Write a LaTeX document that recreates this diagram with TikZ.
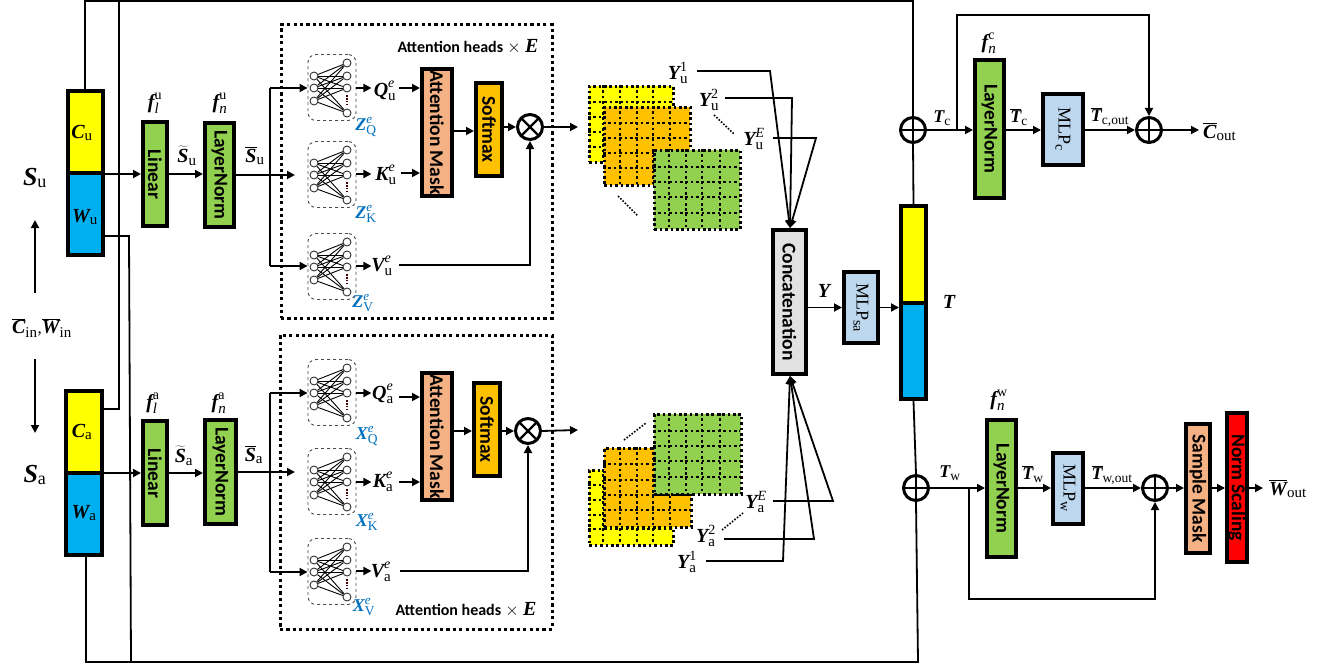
\documentclass[tikz,border=0pt]{standalone}
\usepackage{fontspec}
\usetikzlibrary{arrows.meta}
\setmainfont{Liberation Serif}
\newfontfamily\boxf{Carlito}
\newfontfamily\serf{Liberation Serif}
\definecolor{cyel}{HTML}{FFFF00}
\definecolor{cblu}{HTML}{00B0F0}
\definecolor{cgrn}{HTML}{92D050}
\definecolor{csal}{HTML}{F4B183}
\definecolor{corg}{HTML}{FFC000}
\definecolor{clbl}{HTML}{BDD7EE}
\definecolor{cgry}{HTML}{E2E2E2}
\definecolor{cred}{HTML}{FF0000}
\definecolor{zblue}{HTML}{0070C0}
\newcommand\symf{\fontsize{20}{22}\selectfont\serf\bfseries\itshape}
\newcommand\subf{\fontsize{15}{16}\selectfont\serf\upshape\mdseries}
\newcommand\supf{\fontsize{14}{15}\selectfont\serf\upshape\mdseries}
\newcommand\lsyms{%
  \renewcommand\symf{\fontsize{18}{20}\selectfont\serf\bfseries\itshape}%
  \renewcommand\subf{\fontsize{13.5}{15}\selectfont\serf\upshape\mdseries}%
  \renewcommand\supf{\fontsize{13}{14}\selectfont\serf\upshape\mdseries}}
% plain symbol with sub and superscript
\newcommand\sym[3]{\ensuremath{\hbox{\symf #1}_{\hbox{\subf #2}}^{\hbox{\supf #3}}}}
\newcommand\ssym[2]{\ensuremath{\hbox{\symf #1}_{\hbox{\subf #2}}}}
\newcommand\ovsym[2]{\ensuremath{\overline{\hbox{\symf #1}}_{\hbox{\subf #2}}}}
\newcommand\tlsym[2]{\ensuremath{\widetilde{\hbox{\symf #1}}_{\hbox{\subf #2}}}}
\tikzset{
  x=1pt,y=-1pt,
  blk/.style={draw=black,line width=4pt,inner sep=0pt,align=center},
  lbl/.style={inner sep=0pt,font=\fontsize{17}{19}\selectfont},
  zlbl/.style={lbl,text=zblue},
  conn/.style={line width=1.8pt,draw=black},
  arr/.style={conn,-{Triangle[length=8pt,width=8pt]}},
  sumnode/.style={circle,draw=black,line width=3pt,minimum size=25pt,inner sep=0pt,fill=white},
  neuron/.style={circle,draw=black!80,line width=0.9pt,fill=white,minimum size=8pt,inner sep=0pt},
  nnbox/.style={draw=black!70,dashed,line width=0.9pt,rounded corners=8pt,minimum width=48pt,minimum height=66pt,inner sep=0pt},
  headbox/.style={draw=black,line width=3pt,dash pattern=on 3.2pt off 3.2pt,inner sep=0pt},
  gridline/.style={draw=black,line width=2.6pt,dash pattern=on 2.6pt off 2.8pt},
  sheet/.style={gridline,inner sep=0pt,anchor=north west},
  dotline/.style={draw=black,line width=1.6pt,dash pattern=on 1.6pt off 1.6pt},
}
% name, cx, cy, outer w, outer h, fill, text
\newcommand\blk[7]{\node[blk,fill=#6,minimum width={(#4-4)*1pt},minimum height={(#5-4)*1pt}] (#1) at (#2,#3) {\rotatebox{-90}{#7}};}
\newcommand\btxt[1]{{\boxf\bfseries\fontsize{19.5}{21}\selectfont #1}}
\newcommand\hdtxt{{\boxf\bfseries\fontsize{16}{18}\selectfont Attention heads} \ensuremath{\times} \hbox{\symf E}}
\newcommand\mlptxt[1]{{\serf\fontsize{18}{20}\selectfont MLP\raisebox{-3pt}{\fontsize{14}{15}\selectfont #1}}}
% small network: name, top y
\newcommand\nnet[2]{%
  \node[nnbox] (#1box) at (332,#2+33.5) {};
  \foreach \i/\d in {1/22,2/34,3/47} \node[neuron] (#1i\i) at (314,#2+\d) {};
  \foreach \o/\d in {1/9,2/22,3/34,4/59} \node[neuron] (#1o\o) at (347,#2+\d) {};
  \foreach \i in {1,2,3} \foreach \o in {1,2,3,4} \draw[line width=0.9pt] (#1i\i) -- (#1o\o);
  \draw[draw=black!60!red!70!black,line width=1.4pt,dash pattern=on 1.4pt off 1.4pt,shorten >=3pt,shorten <=3pt] (#1o3) -- (#1o4);
}
% sheet: name, x1,y1,w,h, fill, col list, row list
\newcommand\sheet[8]{%
  \node[sheet,fill=#6,minimum width=#4pt,minimum height=#5pt] (#1) at (#2,#3) {};
  \foreach \c in {#7} \draw[gridline] (\c,#3) -- (\c,#3+#5);
  \foreach \r in {#8} \draw[gridline] (#2,\r) -- (#2+#4,\r);
}
\tikzset{
  oplus/.style={sumnode,path picture={\draw[line width=2.4pt]
    ([xshift=-14pt]path picture bounding box.center) -- ([xshift=14pt]path picture bounding box.center)
    ([yshift=-14pt]path picture bounding box.center) -- ([yshift=14pt]path picture bounding box.center);}},
  otimes/.style={sumnode,path picture={\draw[line width=2.4pt]
    ([xshift=-10pt,yshift=-10pt]path picture bounding box.center) -- ([xshift=10pt,yshift=10pt]path picture bounding box.center)
    ([xshift=-10pt,yshift=10pt]path picture bounding box.center) -- ([xshift=10pt,yshift=-10pt]path picture bounding box.center);}},
}
\begin{document}
\begin{tikzpicture}
\useasboundingbox (0,0) rectangle (1330,666);
\fill[white] (0,0) rectangle (1330,666);

% input stacks
\node[blk,fill=cyel,minimum width=35pt,minimum height=82pt] (cu) at (85,132) {};
\node[blk,fill=cblu,minimum width=35pt,minimum height=82pt] (wu) at (85,214) {};
\node[blk,fill=cyel,minimum width=36pt,minimum height=82pt] (ca) at (84,432) {};
\node[blk,fill=cblu,minimum width=36pt,minimum height=82pt] (wa) at (84,514) {};
\node[lbl] (lcu) at (82,133) {\ssym{C}{u}};
\node[lbl] (lwu) at (85,217) {\ssym{W}{u}};
\node[lbl] (lca) at (82,432) {\ssym{C}{a}};
\node[lbl] (lwa) at (84,513) {\ssym{W}{a}};

% output stack
\node[blk,fill=cyel,minimum width=25pt,minimum height=97pt] (tc) at (913.5,254.5) {};
\node[blk,fill=cblu,minimum width=25pt,minimum height=96pt] (tw) at (913.5,351) {};
\node[lbl] (lT) at (949,302) {\hbox{\symf T}};

% side labels
\node[lbl] (lsu) at (35,178) {\ensuremath{\hbox{\fontsize{26}{28}\selectfont\serf\bfseries\itshape S}_{\hbox{\fontsize{18}{20}\selectfont\serf u}}}};
\node[lbl] (lsa) at (35,475) {\ensuremath{\hbox{\fontsize{26}{28}\selectfont\serf\bfseries\itshape S}_{\hbox{\fontsize{18}{20}\selectfont\serf a}}}};
\node[lbl] (lin) at (42,328) {\ovsym{C}{in}\hbox{\serf ,}\ovsym{W}{in}};
\coordinate (upA) at (35,293); \coordinate (upB) at (35,220);
\coordinate (dnA) at (35,359); \coordinate (dnB) at (35,433);
\draw[arr] (upA) -- (upB);
\draw[arr] (dnA) -- (dnB);

% embedding blocks
\blk{linu}{155}{174}{28}{108}{cgrn}{\btxt{Linear}}
\blk{lnu}{219.5}{175}{33}{108}{cgrn}{\btxt{LayerNorm}}
\blk{lina}{155}{473}{28}{108}{cgrn}{\btxt{Linear}}
\blk{lna}{220.5}{472}{35}{108}{cgrn}{\btxt{LayerNorm}}
\node[lbl] (lflu) at (155,103) {\sym{f}{\itshape l}{u}};
\node[lbl] (lfnu) at (220,103) {\sym{f}{\itshape n}{u}};
\node[lbl] (lfla) at (153,403) {\sym{f}{\itshape l}{a}};
\node[lbl] (lfna) at (219,403) {\sym{f}{\itshape n}{a}};
\node[lbl] (lstu) at (187,156) {\tlsym{S}{u}};
\node[lbl] (lsbu) at (255,156) {\ovsym{S}{u}};
\node[lbl] (lsta) at (184,456) {\tlsym{S}{a}};
\node[lbl] (lsba) at (254,455) {\ovsym{S}{a}};

% attention frames
\node[headbox,minimum width=271pt,minimum height=293pt] (hu) at (416.5,171.5) {};
\node[headbox,minimum width=272pt,minimum height=294pt] (ha) at (416,482) {};
\node[lbl] (lhu) at (468,47) {\hdtxt};
\node[lbl] (lha) at (466,610) {\hdtxt};

% networks
\nnet{nuq}{54}
\nnet{nuk}{141}
\nnet{nuv}{233}
\nnet{naq}{359}
\nnet{nak}{448}
\nnet{nav}{538}
\node[lbl] (lqu) at (385,91) {\sym{Q}{u}{\itshape e}};
\node[lbl] (lku) at (386,175) {\sym{K}{u}{\itshape e}};
\node[lbl] (lvu) at (382,266) {\sym{V}{u}{\itshape e}};
\node[lbl] (lqa) at (383,394) {\sym{Q}{a}{\itshape e}};
\node[lbl] (lka) at (383,482) {\sym{K}{a}{\itshape e}};
\node[lbl] (lva) at (381,572) {\sym{V}{a}{\itshape e}};
\node[zlbl] (lzq) at (366,127) {\color{zblue}\lsyms\sym{Z}{Q}{\itshape e}};
\node[zlbl] (lzk) at (366,214) {\color{zblue}\lsyms\sym{Z}{K}{\itshape e}};
\node[zlbl] (lzv) at (363,303) {\color{zblue}\lsyms\sym{Z}{V}{\itshape e}};
\node[zlbl] (lxq) at (367,436) {\color{zblue}\lsyms\sym{X}{Q}{\itshape e}};
\node[zlbl] (lxk) at (367,522) {\color{zblue}\lsyms\sym{X}{K}{\itshape e}};
\node[zlbl] (lxv) at (364,607) {\color{zblue}\lsyms\sym{X}{V}{\itshape e}};

% attention core
\blk{amu}{437}{132.5}{34}{131}{csal}{\btxt{Attention Mask}}
\blk{smu}{489}{129.5}{30}{97}{corg}{\btxt{Softmax}}
\blk{ama}{437}{436.5}{34}{131}{csal}{\btxt{Attention Mask}}
\blk{sma}{487}{429.5}{30}{97}{corg}{\btxt{Softmax}}
\node[otimes] (xu) at (530,127) {};
\node[otimes] (xa) at (528,431) {};

% branches
\coordinate (bru) at (270,175);
\coordinate (bra) at (270,472);
\draw[conn] (lnu.east) -- (bru);
\draw[conn] (lna.east) -- (bra);
\draw[conn] (270,88) -- (270,266);
\draw[conn] (270,393) -- (270,572);
\draw[arr] (270,88) -- (nuqbox.west |- 0,88);
\draw[arr] (bru) -- (295,175);
\draw[arr] (270,266) -- (nuvbox.west |- 0,266);
\draw[arr] (270,393) -- (naqbox.west |- 0,393);
\draw[arr] (bra) -- (295,472);
\draw[arr] (270,572) -- (navbox.west |- 0,572);

% inputs to embedding
\draw[arr] (cu.south east |- linu) -- (linu.west);
\draw[arr] (ca.south east |- lina) -- (lina.west);
\draw[arr] (linu.east) -- (lnu.west |- linu);
\draw[arr] (lina.east) -- (lna.west |- lina);

% network to keys
\foreach \n/\y in {nuq/88,nuk/174,nuv/266,naq/393,nak/482,nav/571}{
  \draw[arr] (\n box.east |- 0,\y) -- ++(15,0);
}
\draw[arr] (399,88) -- (amu.west |- 0,88);
\draw[arr] (401,173) -- (amu.west |- 0,173);
\draw[arr] (399,397) -- (ama.west |- 0,397);
\draw[arr] (399,482) -- (ama.west |- 0,482);
\draw[arr] (amu.east |- 0,131) -- (smu.west |- 0,131);
\draw[arr] (ama.east |- 0,431) -- (sma.west |- 0,431);
\draw[arr] (smu.east |- xu) -- (xu.west);
\draw[arr] (sma.east |- xa) -- (xa.west);
\coordinate (vu0) at (399,265);
\coordinate (va0) at (400,571);
\draw[arr] (vu0) -- (xu |- vu0) -- (xu.south);
\draw[arr] (va0) -- (xa |- va0) -- (xa.south);
\coordinate (xuout) at (578,127);
\coordinate (xaout) at (578,430);
\draw[arr] (xu.east) -- (xuout);
\draw[arr] (xa.east) -- (xaout);

% sheets upper
\sheet{gu1}{588}{85}{84}{76}{cyel}{603,620,637,653}{102,117,132,147}
\sheet{gu2}{603}{106}{86}{78}{corg}{620,637,653,670}{123,138,153,168}
\sheet{gu3}{653}{149}{86}{79}{cgrn}{669,686,702,720}{167,182,197,213}
% sheets lower
\sheet{ga1}{588}{469}{84}{75}{cyel}{603,620,637,653}{485,500,515,529}
\sheet{ga2}{603}{447}{87}{79}{corg}{620,637,653,670}{464,480,495,510}
\sheet{ga3}{653}{413}{87}{80}{cgrn}{669,686,702,720}{431,446,461,477}
\draw[dotline] (618,196) -- (638,216);
\draw[dotline] (714,115) -- (734,134);
\draw[dotline] (624,440) -- (646,423);
\draw[dotline] (722,530) -- (743,513);

% concat and head outputs
\blk{cat}{789.5}{302}{37}{148}{cgry}{\btxt{Concatenation}}
\node[lbl] (yu1) at (678,73) {\sym{Y}{u}{1}};
\node[lbl] (yu2) at (709,100) {\sym{Y}{u}{2}};
\node[lbl] (yuE) at (754,139) {\sym{Y}{u}{\itshape E}};
\node[lbl] (ya1) at (687,562) {\sym{Y}{a}{1}};
\node[lbl] (ya2) at (706,536) {\sym{Y}{a}{2}};
\node[lbl] (yaE) at (756,502) {\sym{Y}{a}{\itshape E}};
\coordinate (catT) at (790,228);
\coordinate (catB) at (790,376);
\draw[arr] (697,71) -- (770,71) -- (catT);
\draw[arr] (725,98) -- (792,98) -- (catT);
\draw[arr] (773,138) -- (816,138) -- (catT);
\draw[arr] (773,501) -- (833,501) -- (catB);
\draw[arr] (724,539) -- (814,539) -- (catB);
\draw[arr] (706,561) -- (783,561) -- (catB);

% MLP sa
\blk{mlps}{861}{307.5}{38}{75}{clbl}{\mlptxt{sa}}
\node[lbl] (ly) at (824,291) {\hbox{\symf Y}};
\draw[arr] (cat.east |- mlps) -- (mlps.west);
\draw[arr] (mlps.east) -- (tw.north west |- mlps);

% sums and right side
\node[oplus] (pc) at (913,130) {};
\node[oplus] (pw) at (916,488) {};
\node[oplus] (pco) at (1149,130) {};
\node[oplus] (pwo) at (1155,488) {};
\blk{lnc}{989.5}{129}{33}{142}{cgrn}{\btxt{LayerNorm}}
\blk{mlpc}{1063}{129.5}{44}{75}{clbl}{\mlptxt{c}}
\blk{lnw}{1001.5}{488.5}{33}{141}{cgrn}{\btxt{LayerNorm}}
\blk{mlpw}{1068}{488.5}{34}{75}{clbl}{\mlptxt{w}}
\blk{smk}{1198}{488.5}{28}{133}{csal}{\btxt{Sample Mask}}
\blk{nsc}{1237}{487.5}{24}{153}{cred}{\btxt{Norm Scaling}}
\node[lbl] (lfc) at (989,43) {\sym{f}{\itshape n}{c}};
\node[lbl] (lfw) at (999,400) {\sym{f}{\itshape n}{w}};
\node[lbl] (ltc) at (942,118) {\lsyms\ssym{T}{c}};
\node[lbl] (ltbc) at (1019,117) {\lsyms\ovsym{T}{c}};
\node[lbl] (ltbco) at (1110,117) {\lsyms\ovsym{T}{c,out}};
\node[lbl] (ltw) at (950,473) {\lsyms\ssym{T}{w}};
\node[lbl] (ltbw) at (1033,474) {\lsyms\ovsym{T}{w}};
\node[lbl] (ltbwo) at (1112,475) {\lsyms\ovsym{T}{w,out}};
\node[lbl,anchor=west] (lco) at (1203,132) {\ovsym{C}{out}};
\node[lbl,anchor=west] (lwo) at (1269,489) {\ovsym{W}{out}};

\coordinate (cout) at (1199,130);
\coordinate (wout) at (1263,488);
\draw[arr] (pc.east) -- (lnc.west |- pc);
\draw[arr] (lnc.east |- pc) -- (mlpc.west |- pc);
\draw[arr] (mlpc.east |- pco) -- (pco.west);
\draw[arr] (pco.east) -- (cout);
\coordinate (skc1) at (957,130);
\coordinate (skc2) at (957,15);
\coordinate (skc3) at (1149,15);
\draw[arr] (skc1) -- (skc2) -- (skc3) -- (pco.north);
\draw[arr] (pw.east) -- (lnw.west |- pw);
\draw[arr] (lnw.east |- pw) -- (mlpw.west |- pw);
\draw[arr] (mlpw.east |- pwo) -- (pwo.west);
\draw[arr] (pwo.east) -- (smk.west |- pwo);
\draw[arr] (smk.east |- pwo) -- (nsc.west |- pwo);
\draw[arr] (nsc.east |- pwo) -- (wout);
\coordinate (skw1) at (969,488);
\coordinate (skw2) at (969,599);
\coordinate (skw3) at (1155,599);
\draw[arr] (skw1) -- (skw2) -- (skw3) -- (pwo.south);

% stack to sums
\draw[conn] (tc.north) -- (pc.south);
\draw[conn] (tw.south) -- (pw.north);

% long feedback wires
\coordinate (tl) at (85,1);
\coordinate (tm) at (119,1);
\coordinate (tr) at (913,1);
\coordinate (br) at (918,662);
\coordinate (bm) at (131,662);
\coordinate (bl) at (86,662);
\draw[conn] (cu.north) -- (tl) -- (tr) -- (pc.north);
\draw[conn] (ca.east |- 0,409) -- (119,409) -- (tm);
\draw[conn] (wa.south -| bl) -- (bl) -- (br) -- (pw.south);
\draw[conn] (wu.east |- 0,236) -- (129,236) -- (bm);
\end{tikzpicture}
\end{document}
